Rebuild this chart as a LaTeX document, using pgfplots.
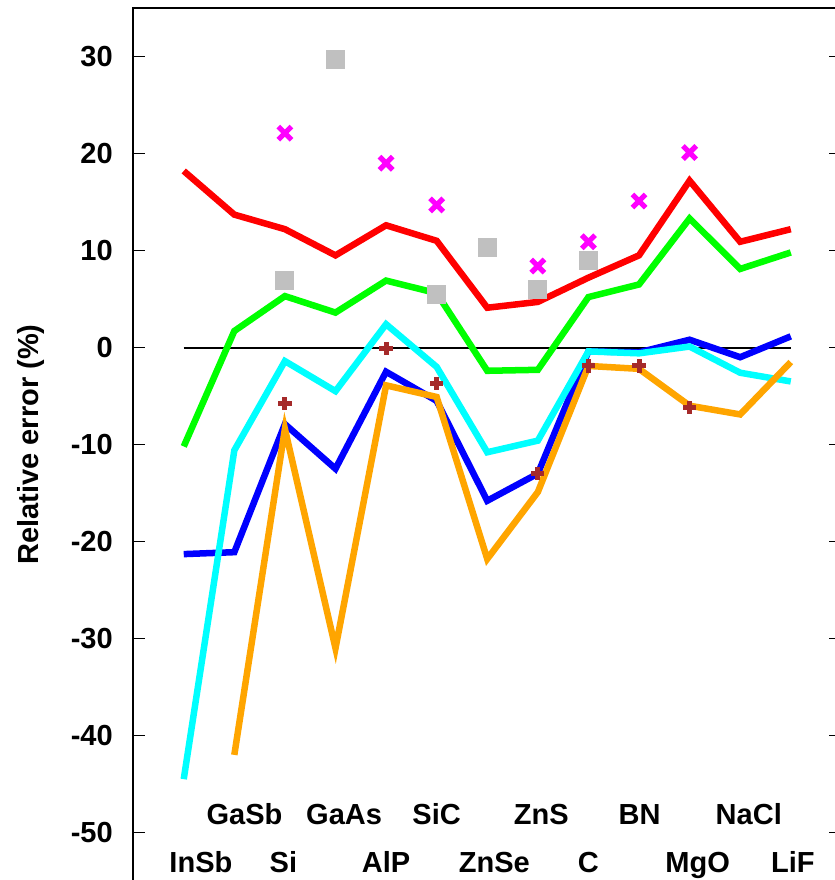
\documentclass[border=0pt]{standalone}
\usepackage{fontspec}
\setmainfont{Liberation Sans}
\usepackage{pgfplots}
\pgfplotsset{compat=1.18}
\definecolor{cred}{HTML}{FF0000}
\definecolor{cgreen}{HTML}{00FF00}
\definecolor{cblue}{HTML}{0000FF}
\definecolor{ccyan}{HTML}{00FFFF}
\definecolor{corange}{HTML}{FFA500}
\definecolor{cmag}{HTML}{FF00FF}
\definecolor{cgray}{HTML}{C0C0C0}
\definecolor{cbrown}{HTML}{A52A2A}
\pgfdeclareplotmark{bigx}{%
  \pgfsetlinewidth{2.6pt}\pgfsetbuttcap
  \pgfpathmoveto{\pgfqpoint{-\pgfplotmarksize}{-\pgfplotmarksize}}%
  \pgfpathlineto{\pgfqpoint{\pgfplotmarksize}{\pgfplotmarksize}}%
  \pgfpathmoveto{\pgfqpoint{-\pgfplotmarksize}{\pgfplotmarksize}}%
  \pgfpathlineto{\pgfqpoint{\pgfplotmarksize}{-\pgfplotmarksize}}%
  \pgfusepathqstroke}
\pgfdeclareplotmark{bigplus}{%
  \pgfsetlinewidth{2.5pt}\pgfsetbuttcap
  \pgfpathmoveto{\pgfqpoint{-\pgfplotmarksize}{0pt}}%
  \pgfpathlineto{\pgfqpoint{\pgfplotmarksize}{0pt}}%
  \pgfpathmoveto{\pgfqpoint{0pt}{\pgfplotmarksize}}%
  \pgfpathlineto{\pgfqpoint{0pt}{-\pgfplotmarksize}}%
  \pgfusepathqstroke}
\newcommand{\lab}{\fontsize{14.5}{17}\selectfont\bfseries}
\begin{document}
\begin{tikzpicture}
\begin{axis}[
  scale only axis, width=353.7pt, height=436pt,
  xmin=-1, xmax=13, ymin=-55, ymax=35,
  xtick=\empty,
  ytick={-50,-40,-30,-20,-10,0,10,20,30},
  yticklabels={-50,-40,-30,-20,-10,0,10,20,30},
  ytick pos=both, yticklabel pos=left,
  tick align=inside,
  major tick length=6pt,
  y tick style={line width=0.5pt, black},
  yticklabel style={font=\lab, inner sep=0pt, xshift=-10pt},
  axis line style={line width=1pt},
  clip=false,
]
\coordinate (sw) at (rel axis cs:0,0);
\addplot[black, line width=1pt] coordinates {(0,0) (12,0)};
% red
\addplot[cred, line width=3.25pt] coordinates {(0,18.2)(1,13.7)(2,12.2)(3,9.5)(4,12.6)(5,11.0)(6,4.1)(7,4.7)(8,7.2)(9,9.5)(10,17.2)(11,10.9)(12,12.2)};
% green
\addplot[cgreen, line width=3.25pt] coordinates {(0,-10.2)(1,1.7)(2,5.3)(3,3.6)(4,6.9)(5,5.6)(6,-2.4)(7,-2.3)(8,5.2)(9,6.5)(10,13.3)(11,8.1)(12,9.8)};
% blue
\addplot[cblue, line width=3.25pt] coordinates {(0,-21.3)(1,-21.1)(2,-7.9)(3,-12.5)(4,-2.5)(5,-5.5)(6,-15.8)(7,-13.0)(8,-0.4)(9,-0.5)(10,0.8)(11,-1.0)(12,1.15)};
% cyan
\addplot[ccyan, line width=3.25pt] coordinates {(0,-44.5)(1,-10.6)(2,-1.4)(3,-4.5)(4,2.4)(5,-2.0)(6,-10.8)(7,-9.6)(8,-0.4)(9,-0.6)(10,0.1)(11,-2.6)(12,-3.5)};
% orange
\addplot[corange, line width=3.25pt] coordinates {(1,-42)(2,-8.4)(3,-31.0)(4,-3.9)(5,-5.1)(6,-21.8)(7,-14.9)(8,-1.9)(9,-2.2)(10,-6.0)(11,-6.9)(12,-1.5)};
% brown plus
\addplot[only marks, mark=bigplus, mark size=3.3pt, cbrown] coordinates {(2,-5.8)(4,-0.1)(5,-3.7)(7,-13.0)(8,-1.9)(9,-1.9)(10,-6.2)};
% gray squares
\addplot[only marks, mark=square*, mark size=4.5pt, cgray, line width=0pt, mark options={draw=cgray, fill=cgray}] coordinates {(3,29.7)(2,6.9)(5,5.45)(6,10.3)(7,6.0)(8,9.0)};
% magenta x
\addplot[only marks, mark=bigx, mark size=3.3pt, cmag] coordinates {(2,22.1)(4,19.0)(5,14.7)(7,8.4)(8,10.9)(9,15.1)(10,20.1)};
% category labels
\node[font=\lab, anchor=base] at (axis cs:0.34,-54.1) {InSb};
\node[font=\lab, anchor=base] at (axis cs:1.20,-49.2) {GaSb};
\node[font=\lab, anchor=base] at (axis cs:1.97,-54.1) {Si};
\node[font=\lab, anchor=base] at (axis cs:3.17,-49.2) {GaAs};
\node[font=\lab, anchor=base] at (axis cs:4.00,-54.1) {AlP};
\node[font=\lab, anchor=base] at (axis cs:5.00,-49.2) {SiC};
\node[font=\lab, anchor=base] at (axis cs:6.14,-54.1) {ZnSe};
\node[font=\lab, anchor=base] at (axis cs:7.07,-49.2) {ZnS};
\node[font=\lab, anchor=base] at (axis cs:8.00,-54.1) {C};
\node[font=\lab, anchor=base] at (axis cs:9.01,-49.2) {BN};
\node[font=\lab, anchor=base] at (axis cs:10.16,-54.1) {MgO};
\node[font=\lab, anchor=base] at (axis cs:11.17,-49.2) {NaCl};
\node[font=\lab, anchor=base] at (axis cs:12.04,-54.1) {LiF};
\node[font=\lab, rotate=90, anchor=base] at ([xshift=-47.5pt]rel axis cs:0,0.5) {Relative error (\%)};
\end{axis}
\pgfresetboundingbox
\useasboundingbox ([shift={(-66.5pt,0.5pt)}]sw) rectangle ([shift={(350.5pt,440pt)}]sw);
\end{tikzpicture}
\end{document}
